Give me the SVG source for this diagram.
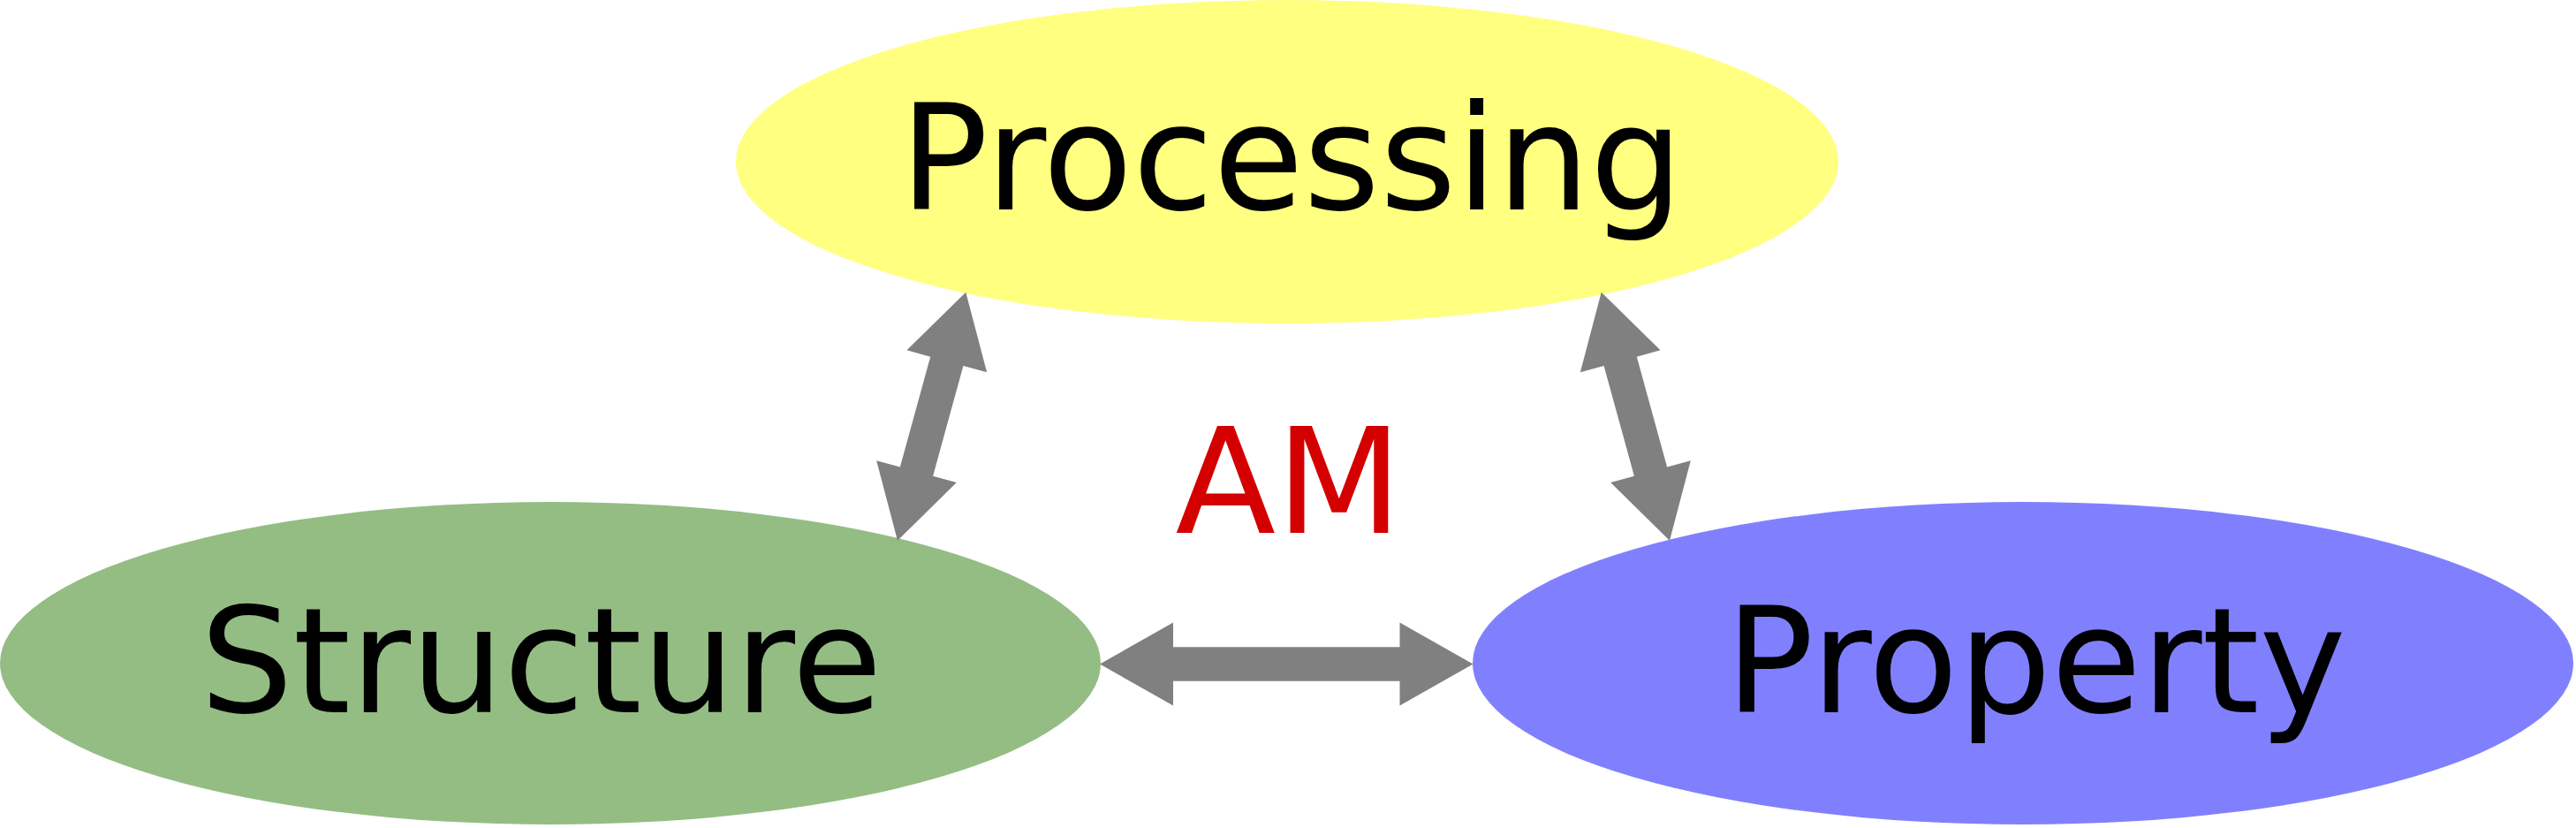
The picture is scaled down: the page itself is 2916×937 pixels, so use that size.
<svg xmlns="http://www.w3.org/2000/svg" width="2916" height="937" viewBox="0 0 2916 937">
<style>
.lbl{font-family:"DejaVu Sans",sans-serif;font-size:166px;text-anchor:middle;fill:#000}
.am{font-family:"DejaVu Sans",sans-serif;font-size:166px;text-anchor:middle;fill:#d40000}
.arrow{fill:#808080;stroke:none}
</style>
<rect width="2916" height="937" fill="#ffffff"/>
<g id="processing">
<ellipse cx="1457" cy="183" rx="624" ry="183" fill="#ffff80"/>
<text class="lbl" x="1462" y="237">Processing</text>
</g>
<g id="structure">
<ellipse cx="623" cy="750.5" rx="623" ry="182.5" fill="#94bd84"/>
<text class="lbl" x="612.5" y="806">Structure</text>
</g>
<g id="property">
<ellipse cx="2290" cy="750.5" rx="623" ry="182.5" fill="#8080ff"/>
<text class="lbl" x="2304.5" y="806">Property</text>
</g>
<g id="connectors">
<polygon class="arrow" points="1093.3,330.7 1117.13,421.27 1090.42,413.92 1056.10,538.72 1082.81,546.07 1016,611.7 992.17,521.13 1018.88,528.48 1053.20,403.68 1026.49,396.33"/>
<polygon class="arrow" points="1812.7,330.7 1788.87,421.27 1815.58,413.92 1849.90,538.72 1823.19,546.07 1890,611.7 1913.83,521.13 1887.12,528.48 1852.80,403.68 1879.51,396.33"/>
<polygon class="arrow" points="1245,751.5 1328,704.5 1328,732.2 1584.5,732.2 1584.5,704.5 1667.5,751.5 1584.5,798.5 1584.5,770.8 1328,770.8 1328,798.5"/>
</g>
<text id="am-label" class="am" x="1459" y="603">AM</text>
</svg>
